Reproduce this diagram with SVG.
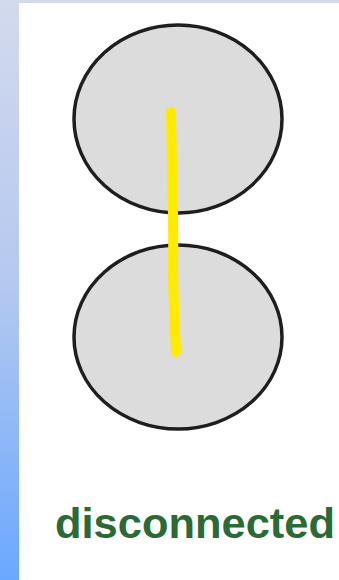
<svg xmlns="http://www.w3.org/2000/svg" width="339" height="580" viewBox="0 0 339 580">
<defs>
<linearGradient id="side" x1="0" y1="0" x2="0" y2="1">
<stop offset="0" stop-color="#d3daed"/>
<stop offset="0.5" stop-color="#b4c8f0"/>
<stop offset="1" stop-color="#6aa8ff"/>
</linearGradient>
</defs>
<style>
.node{fill:#dcdcdc;stroke:#1e1e1e;stroke-width:3.5}
.wire{fill:none;stroke:#ffea00;stroke-width:10;stroke-linecap:round}
.lbl{font-family:"Liberation Sans",Arial,sans-serif;font-weight:bold;font-size:42px;fill:#2a6a34}
</style>
<rect x="0" y="0" width="339" height="580" fill="#ffffff"/>
<rect x="0" y="0" width="339" height="3" fill="#d3daed"/>
<rect x="0" y="0" width="19" height="580" fill="url(#side)"/>
<g id="top-node"><ellipse class="node" cx="178" cy="119" rx="104" ry="94"/></g>
<g id="bottom-node"><ellipse class="node" cx="178" cy="337" rx="104" ry="92"/></g>
<g id="connectors"><path class="wire" d="M171,112 C172,180 174,230 173,260 C173,300 175,330 176,352"/></g>
<g id="label"><text class="lbl" x="55" y="538" textLength="280" lengthAdjust="spacingAndGlyphs">disconnected</text></g>
</svg>
